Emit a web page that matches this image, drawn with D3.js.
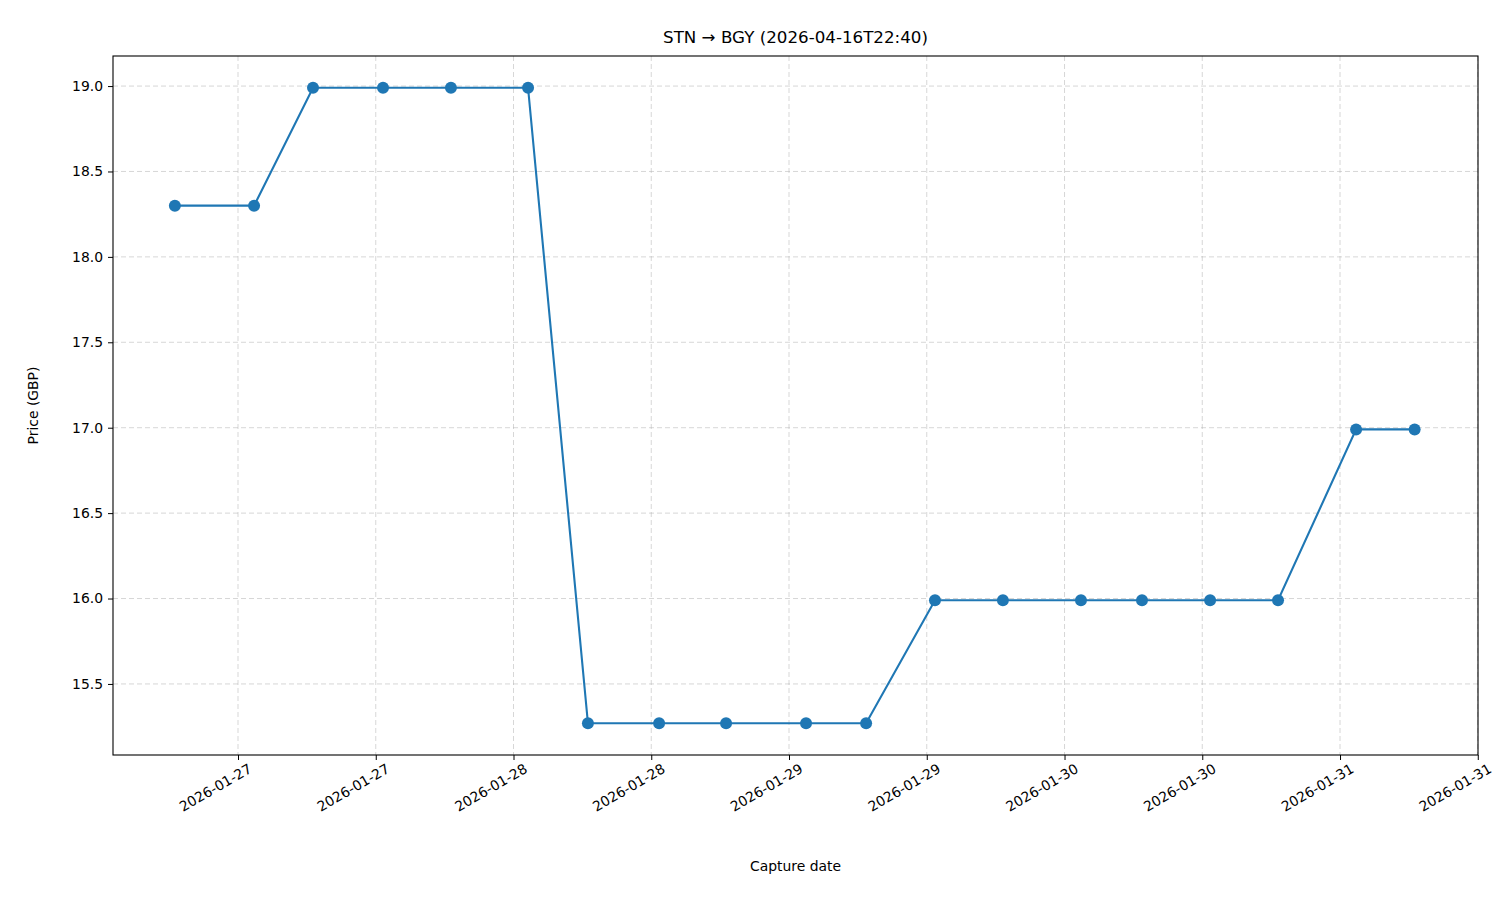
<!DOCTYPE html>
<html>
<head>
<meta charset="utf-8">
<script src="https://cdn.jsdelivr.net/npm/d3@7"></script>
<style>
  body { margin: 0; background: #fff; }
  text { font-family: "DejaVu Sans", sans-serif; }
</style>
</head>
<body>
<svg id="chart" width="1500" height="900"></svg>
<script>
// capture times (UTC) and prices
const captureTimes = [
  '2026-01-26T18:30', '2026-01-27T01:24', '2026-01-27T06:32', '2026-01-27T12:38',
  '2026-01-27T18:33', '2026-01-28T01:16', '2026-01-28T06:29', '2026-01-28T12:41',
  '2026-01-28T18:31', '2026-01-29T01:29', '2026-01-29T06:43', '2026-01-29T12:43',
  '2026-01-29T18:38', '2026-01-30T01:26', '2026-01-30T06:45', '2026-01-30T12:41',
  '2026-01-30T18:36', '2026-01-31T01:24', '2026-01-31T06:30'
];
const prices = [
  18.30, 18.30, 18.99, 18.99, 18.99, 18.99, 15.27, 15.27, 15.27, 15.27,
  15.27, 15.99, 15.99, 15.99, 15.99, 15.99, 15.99, 16.99, 16.99
];
const yTicks = [15.5, 16.0, 16.5, 17.0, 17.5, 18.0, 18.5, 19.0];

const parse = d3.utcParse('%Y-%m-%dT%H:%M');
const data = captureTimes.map((t, i) => ({ t: parse(t), v: prices[i] }));

const svg = d3.select('#chart');
const pLeft = 113, pRight = 1478, pTop = 56, pBottom = 755;
const t0 = parse('2026-01-27T00:00');
const hour = 3600 * 1000;

const x = d3.scaleUtc()
  .domain([new Date(+t0 - 10.89 * hour), new Date(+t0 + 108.02 * hour)])
  .range([pLeft, pRight]);
const y = d3.scaleLinear().domain([15.084, 19.176]).range([pBottom, pTop]);

const xTicks = d3.utcHour.every(12).range(x.domain()[0], x.domain()[1]);

// grid
const grid = svg.append('g').attr('stroke', '#b0b0b0').attr('stroke-opacity', 0.5)
  .attr('stroke-dasharray', '5,3').attr('stroke-width', 1);
xTicks.forEach(d => grid.append('line').attr('x1', x(d)).attr('x2', x(d)).attr('y1', pTop).attr('y2', pBottom));
yTicks.forEach(d => grid.append('line').attr('y1', y(d)).attr('y2', y(d)).attr('x1', pLeft).attr('x2', pRight));

// axes
const fmt = d3.utcFormat('%Y-%m-%d');
const xAxis = svg.append('g').attr('transform', `translate(0,${pBottom})`)
  .call(d3.axisBottom(x).tickValues(xTicks).tickFormat(fmt).tickSizeOuter(0).tickSize(5).tickPadding(4));
xAxis.selectAll('text')
  .style('font-size', '13.9px')
  .attr('text-anchor', 'end')
  .attr('dx', '0.3em').attr('dy', '0.9em')
  .attr('transform', 'rotate(-30)');

const yAxis = svg.append('g').attr('transform', `translate(${pLeft},0)`)
  .call(d3.axisLeft(y).tickValues(yTicks).tickFormat(d3.format('.1f')).tickSizeOuter(0).tickSize(5).tickPadding(5));
yAxis.selectAll('text').style('font-size', '13.9px');
svg.selectAll('.domain').remove();
svg.selectAll('.tick line').attr('stroke', '#000');
svg.selectAll('.tick text').attr('fill', '#000');

svg.append('rect').attr('x', pLeft).attr('y', pTop).attr('width', pRight - pLeft).attr('height', pBottom - pTop)
  .attr('fill', 'none').attr('stroke', '#000').attr('stroke-width', 1.1);

// series
const line = d3.line().x(d => x(d.t)).y(d => y(d.v));
svg.append('path').datum(data).attr('d', line)
  .attr('fill', 'none').attr('stroke', '#1f77b4').attr('stroke-width', 2.1);
svg.append('g').selectAll('circle').data(data).join('circle')
  .attr('cx', d => x(d.t)).attr('cy', d => y(d.v)).attr('r', 6).attr('fill', '#1f77b4');

// labels
svg.append('text').attr('x', (pLeft + pRight) / 2).attr('y', 43).attr('text-anchor', 'middle')
  .style('font-size', '16.7px').text('STN → BGY (2026-04-16T22:40)');
svg.append('text').attr('x', (pLeft + pRight) / 2).attr('y', 871).attr('text-anchor', 'middle')
  .style('font-size', '13.9px').text('Capture date');
svg.append('text').attr('transform', `translate(38,${(pTop + pBottom) / 2}) rotate(-90)`)
  .attr('text-anchor', 'middle').style('font-size', '13.9px').text('Price (GBP)');
</script>
</body>
</html>
